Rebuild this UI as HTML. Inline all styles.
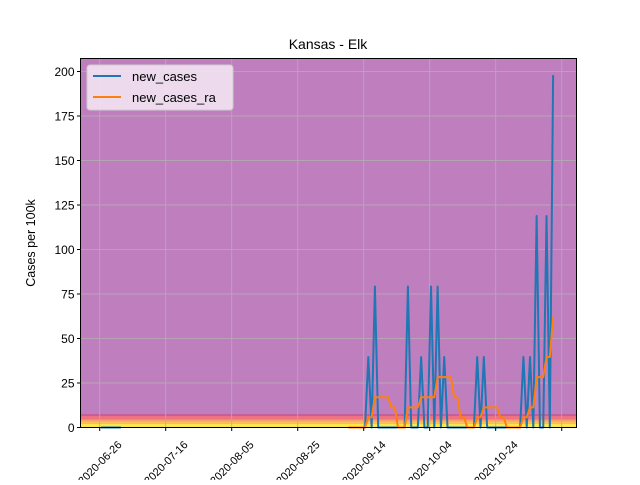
<!DOCTYPE html>
<html><head><meta charset="utf-8"><style>
body{margin:0;background:#fff;font-family:"Liberation Sans","DejaVu Sans",sans-serif}
</style></head><body>
<svg id="chart" width="640" height="480" xmlns="http://www.w3.org/2000/svg">
<text x="328" y="49" font-size="14" text-anchor="middle">Kansas - Elk</text>
<g id="bands"></g>
<g id="grid"></g>
<g id="series"></g>
<rect x="80.5" y="58.5" width="496" height="369" fill="none" stroke="#000" stroke-width="1"/>
<g id="axes" font-size="12"></g>
<text transform="translate(35,243) rotate(-90)" font-size="12.5" text-anchor="middle">Cases per 100k</text>
<g>
<rect x="87" y="65" width="146" height="45" rx="3" fill="#f2e6f2" fill-opacity="0.9" stroke="#ccc"/>
<line x1="93" y1="76" x2="121" y2="76" stroke="#1f77b4" stroke-width="2"/>
<text x="132" y="81" font-size="13">new_cases</text>
<line x1="93" y1="97" x2="121" y2="97" stroke="#ff7f0e" stroke-width="2"/>
<text x="132" y="102" font-size="13">new_cases_ra</text>
</g>
</svg>
<script>
// day index = days since 2020-06-26
const caseDays = [81,83,93,97,100,102,104,114,116,128,130,132,135,137];
const caseValues = [39.6,79.2,79.2,39.6,79.2,79.2,39.6,39.6,39.6,39.6,39.6,118.8,118.8,198];
const earlyDays = [0,6];
const seriesStart = 75, seriesEnd = 137;
const yTicks = [0,25,50,75,100,125,150,175,200];
const xTickDays = [0,20,40,60,80,100,120,140];
const xTickLabels = ["2020-06-26","2020-07-16","2020-08-05","2020-08-25","2020-09-14","2020-10-04","2020-10-24",""];
const bandLimits = [0,2,3.5,4.5,7];
const bandColors = ["#fde64b","#fbc060","#f7a068","#ee7282"];

const NS="http://www.w3.org/2000/svg";
const L=80.5,R=576.5,T=58.5,B=427.5,YMAX=207.3;
const xs=d=>99.7+3.3*(d+0.4);
const ys=v=>B-(v/YMAX)*(B-T);
function mk(tag,attrs,parent){const e=document.createElementNS(NS,tag);for(const k in attrs)e.setAttribute(k,attrs[k]);parent.appendChild(e);return e;}

const bands=document.getElementById('bands');
const bg=mk('rect',{x:L,y:T,width:R-L,height:B-T,fill:'#bf7fbf'},bands);


for(let i=0;i<bandColors.length;i++){
  const r=mk('rect',{x:L,y:ys(bandLimits[i+1]),width:R-L,height:ys(bandLimits[i])-ys(bandLimits[i+1]),fill:bandColors[i]},bands);
  
  
}
const bl=mk('line',{x1:L,x2:R,y1:ys(7),y2:ys(7),stroke:'#c8407a','stroke-width':1},bands);



const grid=document.getElementById('grid'),axes=document.getElementById('axes');
yTicks.forEach(v=>{
  const y=ys(v);
  const g=mk('line',{x1:L,x2:R,y1:y,y2:y,stroke:'#b0b0b0','stroke-width':0.8},grid);
  
  
  mk('line',{x1:L-3.5,x2:L,y1:y,y2:y,stroke:'#000'},axes);
  const t=mk('text',{x:L-6,y:y+4.5,'text-anchor':'end'},axes);
  t.textContent=v;
  
  
});
xTickDays.forEach((d,i)=>{
  const x=99.7+3.3*d;
  const g=mk('line',{x1:x,x2:x,y1:T,y2:B,stroke:'#b0b0b0','stroke-width':0.8},grid);
  
  
  mk('line',{x1:x,x2:x,y1:B,y2:B+3.5,stroke:'#000'},axes);
  const cx=x, cy=B+35;
  const t=mk('text',{x:cx,y:cy+4,'text-anchor':'middle','font-size':11,transform:`rotate(-45 ${cx} ${cy})`},axes);
  t.textContent=xTickLabels[i];
  
  
});

const series=document.getElementById('series');
const daily={};
caseDays.forEach((d,i)=>daily[d]=caseValues[i]);
const ptsB=[],ptsO=[];
for(let d=seriesStart;d<=seriesEnd;d++){
  const v=daily[d]||0;
  ptsB.push(xs(d)+','+ys(v));
  let s=0;for(let k=d-6;k<=d;k++)s+=daily[k]||0;
  ptsO.push(xs(d)+','+ys(s/7));
}
const early=mk('polyline',{points:earlyDays.map(d=>xs(d)+','+ys(0)).join(' '),fill:'none',stroke:'#1f77b4','stroke-width':2},series);


const lb=mk('polyline',{points:ptsB.join(' '),fill:'none',stroke:'#1f77b4','stroke-width':2,'stroke-linejoin':'round'},series);


const lo=mk('polyline',{points:ptsO.join(' '),fill:'none',stroke:'#ff7f0e','stroke-width':2,'stroke-linejoin':'round'},series);


</script>
</body></html>
